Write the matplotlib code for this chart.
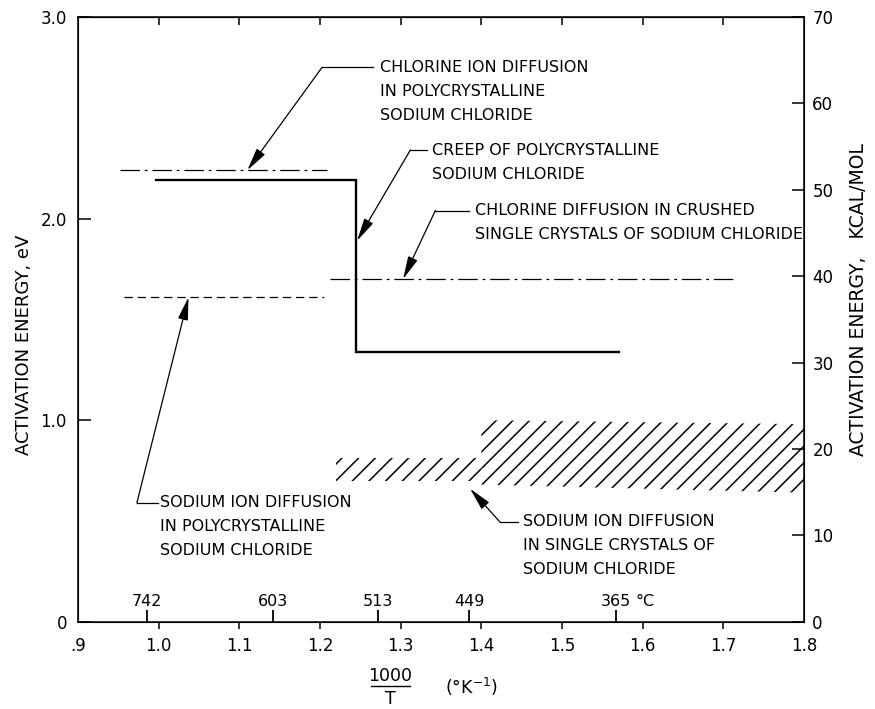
import matplotlib
matplotlib.use("Agg")
import matplotlib.pyplot as plt
from matplotlib.transforms import blended_transform_factory

plt.rcParams['font.family'] = ['DejaVu Sans']
plt.rcParams['hatch.linewidth'] = 1.1
plt.rcParams['lines.scale_dashes'] = False

# activation energy (eV) against 1000/T (1/K)
cl_poly_x = [0.952, 1.209]
cl_poly_e = [2.24, 2.24]

creep_x = [0.997, 1.245, 1.245, 1.571]
creep_e = [2.19, 2.19, 1.34, 1.34]

cl_crushed_x = [1.212, 1.712]
cl_crushed_e = [1.70, 1.70]

na_poly_x = [0.957, 1.205]
na_poly_e = [1.61, 1.61]

# sodium ion diffusion in single crystals: scatter bands
na_band1_x = [1.22, 1.40]
na_band1_lo = [0.70, 0.70]
na_band1_hi = [0.81, 0.81]
na_band2_x = [1.40, 1.80]
na_band2_lo = [0.68, 0.64]
na_band2_hi = [1.00, 0.98]

x_ticks = [0.9, 1.0, 1.1, 1.2, 1.3, 1.4, 1.5, 1.6, 1.7, 1.8]
x_labels = ['.9', '1.0', '1.1', '1.2', '1.3', '1.4', '1.5', '1.6', '1.7', '1.8']
ev_ticks = [0, 1.0, 2.0, 3.0]
ev_labels = ['0', '1.0', '2.0', '3.0']
kcal_ticks = [0, 10, 20, 30, 40, 50, 60, 70]
temp_c = [742, 603, 513, 449, 365]

FS = 11.5

fig = plt.figure(figsize=(8.75, 7.09), dpi=100)
ax = fig.add_axes([78/875, 1 - 621.7/709, (804 - 78)/875, (621.7 - 17)/709])
ax.set_xlim(0.9, 1.8)
ax.set_ylim(0, 3.0)
for s in ax.spines.values():
    s.set_linewidth(1.1)

ax.set_xticks(x_ticks)
ax.set_xticklabels(x_labels)
ax.tick_params(axis='x', direction='out', length=5, width=1.1, labelsize=FS + 0.5, pad=6)
# no tick marks at the two corners
for t in (ax.xaxis.get_major_ticks()[0], ax.xaxis.get_major_ticks()[-1]):
    t.tick1line.set_visible(False)
    t.tick2line.set_visible(False)
ax.set_yticks(ev_ticks)
ax.set_yticklabels(ev_labels)
ax.tick_params(axis='y', direction='in', length=9, width=1.1, labelsize=FS + 0.5, pad=8)

top = ax.secondary_xaxis('top')
top.set_xticks(x_ticks[1:-1])
top.tick_params(direction='in', length=6, width=1.1, labelbottom=False, labeltop=False)

# temperature markers (deg C) along the bottom axis
temp_x = [1000.0 / (c + 273.15) for c in temp_c]
tsec = ax.secondary_xaxis('bottom')
tsec.set_xticks(temp_x)
tsec.tick_params(direction='in', length=9, width=1.3, labelbottom=False)
tsec.spines['bottom'].set_visible(False)
for xv, c in zip(temp_x, temp_c):
    ax.text(xv, 0.065, str(c), ha='center', va='bottom', fontsize=FS)
ax.annotate('°C', xy=(temp_x[-1], 0.065), xytext=(14, 0), textcoords='offset points',
            ha='left', va='bottom', fontsize=FS)

rax = ax.twinx()
rax.set_ylim(0, 70)
rax.set_yticks(kcal_ticks)
rax.tick_params(axis='y', direction='in', length=9, width=1.1, labelsize=FS + 0.5, pad=6)

ax.plot(cl_poly_x, cl_poly_e, color='k', lw=0.9, linestyle=(0, (14, 3.5, 2, 3.5)))
ax.plot(creep_x, creep_e, color='k', lw=1.7, solid_joinstyle='miter')
ax.plot(cl_crushed_x, cl_crushed_e, color='k', lw=0.9, linestyle=(0, (14, 3.5, 2, 3.5)))
ax.plot(na_poly_x, na_poly_e, color='k', lw=0.9, linestyle=(0, (6, 3.5)))

ax.fill_between(na_band1_x, na_band1_lo, na_band1_hi, facecolor='none',
                edgecolor='k', hatch='//', linewidth=0)
ax.fill_between(na_band2_x, na_band2_lo, na_band2_hi, facecolor='none',
                edgecolor='k', hatch='//', linewidth=0)


def callout(lines, text_at, corner, hook_end, tip):
    ax.plot([corner[0], hook_end[0]], [corner[1], corner[1]], color='k', lw=0.9)
    ax.annotate('', xy=tip, xytext=corner,
                arrowprops=dict(arrowstyle='-|>,head_length=1.0,head_width=0.22',
                                color='k', lw=0.9, shrinkA=0, shrinkB=0,
                                mutation_scale=14))
    for i, s in enumerate(lines):
        ax.annotate(s, xy=text_at, xytext=(0, -17.3 * i), textcoords='offset points',
                    ha='left', va='center', fontsize=FS)


callout(['CHLORINE ION DIFFUSION', 'IN POLYCRYSTALLINE', 'SODIUM CHLORIDE'],
        (1.274, 2.75), (1.2025, 2.75), (1.266, 2.75), (1.11, 2.24))
callout(['CREEP OF POLYCRYSTALLINE', 'SODIUM CHLORIDE'],
        (1.339, 2.34), (1.312, 2.34), (1.333, 2.34), (1.246, 1.89))
callout(['CHLORINE DIFFUSION IN CRUSHED', 'SINGLE CRYSTALS OF SODIUM CHLORIDE'],
        (1.392, 2.04), (1.343, 2.04), (1.385, 2.04), (1.303, 1.70))
callout(['SODIUM ION DIFFUSION', 'IN POLYCRYSTALLINE', 'SODIUM CHLORIDE'],
        (1.002, 0.59), (0.973, 0.59), (0.999, 0.59), (1.037, 1.61))
callout(['SODIUM ION DIFFUSION', 'IN SINGLE CRYSTALS OF', 'SODIUM CHLORIDE'],
        (1.452, 0.495), (1.423, 0.495), (1.446, 0.495), (1.386, 0.66))

# axis titles
fig.text(24/875, 1 - 345/709, 'ACTIVATION ENERGY, eV', rotation=90,
         ha='center', va='center', fontsize=13)
fig.text(858/875, 1 - 300/709, 'ACTIVATION ENERGY,   KCAL/MOL', rotation=90,
         ha='center', va='center', fontsize=13.5)

bt = blended_transform_factory(ax.transData, fig.transFigure)
ax.text(1.287, 1 - 676/709, '1000', transform=bt, ha='center', va='center', fontsize=FS + 1)
ax.plot([1.263, 1.311], [1 - 686/709] * 2, transform=bt, color='k', lw=1.0, clip_on=False)
ax.text(1.287, 1 - 699/709, 'T', transform=bt, ha='center', va='center', fontsize=FS + 1)
ax.text(1.388, 1 - 687/709, '(°K$^{-1}$)', transform=bt, ha='center', va='center',
        fontsize=FS + 1)

fig.savefig('out.png', dpi=100)
